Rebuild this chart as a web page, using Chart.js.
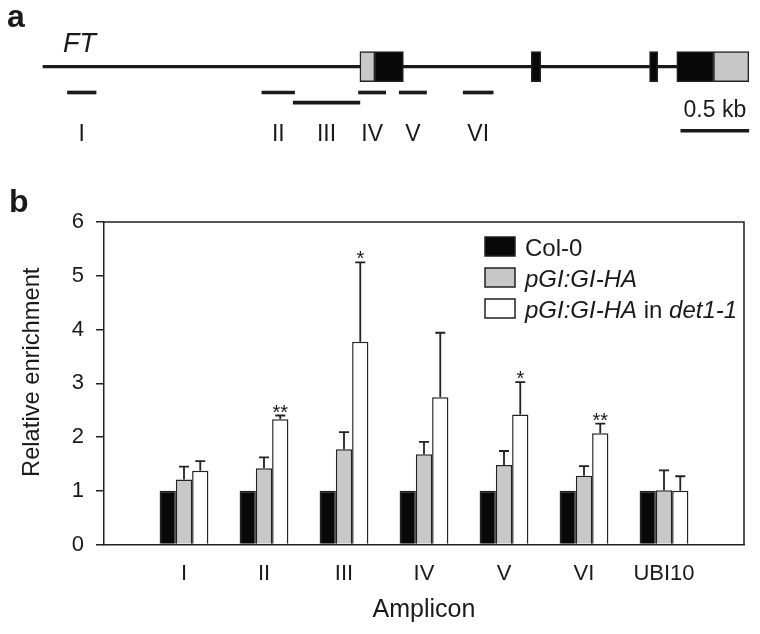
<!DOCTYPE html>
<html><head><meta charset="utf-8">
<script src="https://cdn.jsdelivr.net/npm/chart.js@4/dist/chart.umd.min.js"></script>
<style>
html,body{margin:0;padding:0;background:#fff;width:760px;height:634px;overflow:hidden}
#wa{position:absolute;left:0;top:0;width:760px;height:160px}
#wb{position:absolute;left:0;top:160px;width:760px;height:474px}
canvas{display:block}
</style></head><body>
<div id="wa"><canvas id="ca" width="760" height="160"></canvas></div>
<div id="wb"><canvas id="cb" width="760" height="474"></canvas></div>
<script>
// ---------- Panel a: FT locus (positions in kb from the start of the drawn region) ----------
const geneLine = [0, 4.66];
const utrExons = [[2.33, 2.44], [4.93, 5.19]];
const cdsExons = [[2.44, 2.65], [3.59, 3.66], [4.46, 4.52], [4.66, 4.93]];
const ampliconNames = ['I', 'II', 'III', 'IV', 'V', 'VI'];
const ampliconRanges = [[0.18, 0.39], [1.61, 1.85], [1.84, 2.33], [2.32, 2.52], [2.62, 2.82], [3.09, 3.31]];
const ampliconRows = [1, 1, 2, 1, 1, 1];
const scaleBarKb = [4.69, 5.19];
const scaleBarLabel = '0.5 kb';
const geneName = 'FT';

// ---------- Panel b: ChIP enrichment ----------
const categories = ['', 'I', 'II', 'III', 'IV', 'V', 'VI', 'UBI10', ''];
const seriesNames = ['Col-0', 'pGI:GI-HA', 'pGI:GI-HA in det1-1'];
const col0 = [null, 1, 1, 1, 1, 1, 1, 1, null];
const giHA = [null, 1.21, 1.42, 1.77, 1.68, 1.48, 1.28, 1.01, null];
const giHAdet1 = [null, 1.37, 2.33, 3.77, 2.74, 2.42, 2.07, 1.00, null];
const giHAerr = [null, 0.24, 0.20, 0.32, 0.23, 0.26, 0.18, 0.37, null];
const giHAdet1err = [null, 0.18, 0.07, 1.48, 1.20, 0.60, 0.18, 0.27, null];
const significance = ['', '', '**', '*', '', '*', '**', '', ''];
const yTicks = [0, 1, 2, 3, 4, 5, 6];
const yTitle = 'Relative enrichment';
const xTitle = 'Amplicon';

// ---------- styles ----------
const FONT = "'Liberation Sans', Arial, Helvetica, sans-serif";
const INK = '#1a1a1a';
const LINE = '#222222';
const BLACK = '#080808';
const GRAY = '#c8c8c8';
const WHITE = '#ffffff';

// ================= Panel a =================
const LEVEL = { gene: 0, row1: -1, row2: -1.39, bar: -2.48 };
const rowLevel = r => (r === 2 ? LEVEL.row2 : LEVEL.row1);

const panelAText = {
  id: 'panelAText',
  afterDraw(chart) {
    const { ctx, scales: { x, y } } = chart;
    ctx.save();
    ctx.fillStyle = INK;
    ctx.textBaseline = 'alphabetic';
    ctx.textAlign = 'left';
    ctx.font = `bold 32px ${FONT}`;
    ctx.fillText('a', 7, 27);
    ctx.font = `italic 27px ${FONT}`;
    ctx.fillText(geneName, x.getPixelForValue(geneLine[0]) + 20, 52);
    ctx.font = `23px ${FONT}`;
    ctx.textAlign = 'center';
    const labY = y.getPixelForValue(LEVEL.row1) + 48;
    ampliconNames.forEach((n, i) => {
      const r = ampliconRanges[i];
      ctx.fillText(n, x.getPixelForValue((r[0] + r[1]) / 2), labY);
    });
    ctx.fillText(scaleBarLabel, x.getPixelForValue((scaleBarKb[0] + scaleBarKb[1]) / 2), y.getPixelForValue(LEVEL.bar) - 14);
    ctx.restore();
  }
};

new Chart(document.getElementById('ca'), {
  type: 'bar',
  data: {
    datasets: [
      { label: 'intron', data: [{ y: LEVEL.gene, x: geneLine }], backgroundColor: INK, borderWidth: 0, barThickness: 2.5, order: 3 },
      { label: 'utr', data: utrExons.map(r => ({ y: LEVEL.gene, x: r })), backgroundColor: GRAY, borderColor: LINE, borderWidth: 1.5, barThickness: 30, order: 1 },
      { label: 'cds', data: cdsExons.map(r => ({ y: LEVEL.gene, x: r })), backgroundColor: BLACK, borderColor: LINE, borderWidth: 1.5, barThickness: 30, order: 1 },
      { label: 'amplicons', data: ampliconRanges.map((r, i) => ({ y: rowLevel(ampliconRows[i]), x: r })), backgroundColor: INK, borderWidth: 0, barThickness: 3, order: 2 },
      { label: 'scale', data: [{ y: LEVEL.bar, x: scaleBarKb }], backgroundColor: INK, borderWidth: 0, barThickness: 3, order: 2 }
    ].map(d => Object.assign(d, { stack: 'g', borderSkipped: false }))
  },
  options: {
    indexAxis: 'y',
    responsive: false, animation: false, events: [],
    layout: { padding: 0 },
    plugins: { legend: { display: false }, tooltip: { enabled: false } },
    scales: {
      x: { type: 'linear', display: false, stacked: false, min: -43 / 136, max: 717 / 136 },
      y: { type: 'linear', display: false, min: -96 / 31, max: 64 / 31 }
    }
  },
  plugins: [panelAText]
});

// ================= Panel b =================
const errorsBySeries = [null, giHAerr, giHAdet1err];

function legendRuns(name) {
  if (name === 'Col-0') return [{ t: name, it: false }];
  const parts = name.split(' in ');
  const runs = [];
  parts.forEach((p, i) => {
    if (i > 0) runs.push({ t: ' in ', it: false });
    runs.push({ t: p, it: true });
  });
  return runs;
}

const panelBDecor = {
  id: 'panelBDecor',
  afterDatasetsDraw(chart) {
    const { ctx, chartArea: a, scales: { y } } = chart;
    ctx.save();
    // frame (top and right)
    ctx.strokeStyle = LINE; ctx.lineWidth = 1.5;
    ctx.beginPath();
    ctx.moveTo(a.left, a.top); ctx.lineTo(a.right, a.top); ctx.lineTo(a.right, a.bottom);
    ctx.stroke();
    // error bars
    ctx.lineWidth = 1.8;
    errorsBySeries.forEach((errs, di) => {
      if (!errs) return;
      const meta = chart.getDatasetMeta(di);
      const vals = chart.data.datasets[di].data;
      meta.data.forEach((el, j) => {
        if (errs[j] == null || vals[j] == null) return;
        const yTop = y.getPixelForValue(vals[j] + errs[j]);
        ctx.beginPath();
        ctx.moveTo(el.x, el.y); ctx.lineTo(el.x, yTop);
        ctx.moveTo(el.x - 5, yTop); ctx.lineTo(el.x + 5, yTop);
        ctx.stroke();
      });
    });
    // significance stars above the det1-1 series
    ctx.fillStyle = INK;
    ctx.font = `20px ${FONT}`;
    ctx.textAlign = 'center'; ctx.textBaseline = 'alphabetic';
    const meta2 = chart.getDatasetMeta(2);
    significance.forEach((s, j) => {
      if (!s) return;
      const el = meta2.data[j];
      const yTop = y.getPixelForValue(giHAdet1[j] + giHAdet1err[j]);
      ctx.fillText(s, el.x, yTop + 3);
    });
    // legend
    const lx = a.left + 381, ly = a.top + 15;
    chart.data.datasets.forEach((ds, i) => {
      const top = ly + i * 31;
      ctx.fillStyle = ds.backgroundColor;
      ctx.fillRect(lx, top, 30, 19);
      ctx.strokeStyle = LINE; ctx.lineWidth = 1.5;
      ctx.strokeRect(lx, top, 30, 19);
      let tx = lx + 40;
      ctx.fillStyle = INK; ctx.textAlign = 'left';
      legendRuns(ds.label).forEach(r => {
        ctx.font = `${r.it ? 'italic ' : ''}24px ${FONT}`;
        ctx.fillText(r.t, tx, top + 19);
        tx += ctx.measureText(r.t).width;
      });
    });
    ctx.restore();
  },
  afterDraw(chart) {
    const { ctx, chartArea: a } = chart;
    ctx.save();
    ctx.fillStyle = INK;
    ctx.font = `bold 32px ${FONT}`;
    ctx.textAlign = 'left'; ctx.textBaseline = 'alphabetic';
    ctx.fillText('b', 9, 52);
    // y-axis title
    ctx.font = `23.7px ${FONT}`;
    ctx.textAlign = 'center'; ctx.textBaseline = 'middle';
    ctx.translate(32, (a.top + a.bottom) / 2 - 11);
    ctx.rotate(-Math.PI / 2);
    ctx.fillText(yTitle, 0, 0);
    ctx.restore();
  }
};

new Chart(document.getElementById('cb'), {
  type: 'bar',
  data: {
    labels: categories,
    datasets: [
      { label: seriesNames[0], data: col0, backgroundColor: BLACK, borderColor: LINE, borderWidth: 1.5 },
      { label: seriesNames[1], data: giHA, backgroundColor: GRAY, borderColor: LINE, borderWidth: 1.5 },
      { label: seriesNames[2], data: giHAdet1, backgroundColor: WHITE, borderColor: LINE, borderWidth: 1.5 }
    ]
  },
  options: {
    responsive: false, animation: false, events: [],
    layout: { padding: { left: 0, right: 12, top: 62, bottom: 0 } },
    datasets: { bar: { categoryPercentage: 0.61, barPercentage: 1 } },
    plugins: { legend: { display: false }, tooltip: { enabled: false } },
    scales: {
      x: {
        offset: false,
        grid: { display: false, drawTicks: false },
        border: { display: true, color: LINE, width: 1.5 },
        ticks: { font: { family: FONT, size: 22 }, color: INK, padding: 16, autoSkip: false, maxRotation: 0 },
        title: { display: true, text: xTitle, font: { family: FONT, size: 25 }, color: INK, padding: { top: 0, bottom: 9 } },
        afterFit(s) { s.height = 89.5; }
      },
      y: {
        min: 0, max: 6,
        afterBuildTicks(s) { s.ticks = yTicks.map(v => ({ value: v })); },
        ticks: { font: { family: FONT, size: 22 }, color: INK, padding: 12 },
        grid: { drawOnChartArea: false, drawTicks: true, tickLength: 8, color: LINE, lineWidth: 1.5 },
        border: { display: true, color: LINE, width: 1.5 },
        title: { display: false },
        afterFit(s) { s.width = 104; }
      }
    }
  },
  plugins: [panelBDecor]
});
</script>
</body></html>
